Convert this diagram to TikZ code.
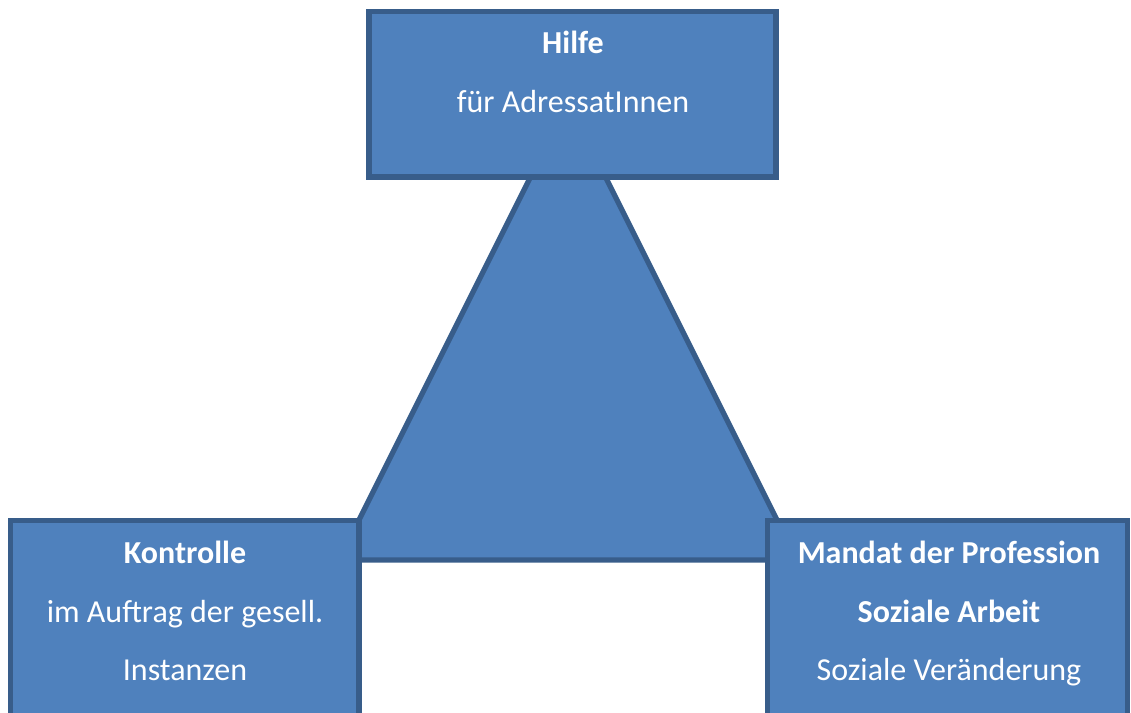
\documentclass[tikz,border=0pt]{standalone}
\usepackage{fontspec}
\setmainfont{Carlito}
\definecolor{boxfill}{HTML}{4F81BD}
\definecolor{boxline}{HTML}{385D8A}
\begin{document}
\begin{tikzpicture}[x=0.75pt,y=-0.75pt,
  shapebox/.style={draw=boxline,fill=boxfill,line width=3.9pt},
  txt/.style={text=white,font=\fontsize{24pt}{28pt}\selectfont,inner sep=0pt,anchor=base},
  btxt/.style={txt,font=\fontsize{24pt}{28pt}\selectfont\bfseries}]
\useasboundingbox (0,0) rectangle (1131,713);
\clip (0,0) rectangle (1131,713);
% triangle
\coordinate (apex) at (568,102);
\coordinate (bl) at (339,560);
\coordinate (br) at (797,560);
\draw[shapebox] (apex) -- (br) -- (bl) -- cycle;
% boxes
\draw[shapebox] (369,11.5) rectangle (776,177) node[pos=.5,inner sep=0pt] (top) {};
\draw[shapebox] (10.5,520.5) rectangle (359,740) node[pos=.5,inner sep=0pt] (left) {};
\draw[shapebox] (767.5,520.5) rectangle (1127.5,740) node[pos=.5,inner sep=0pt] (right) {};
% texts
\node[btxt] (t1) at (573,54) {Hilfe};
\node[txt] (t2) at (573,113) {für AdressatInnen};
\node[btxt] (l1) at (185,563) {Kontrolle};
\node[txt] (l2) at (185,622) {im Auftrag der gesell.};
\node[txt] (l3) at (185,680) {Instanzen};
\node[btxt] (r1) at (949,563) {Mandat der Profession};
\node[btxt] (r2) at (949,622) {Soziale Arbeit};
\node[txt] (r3) at (949,680) {Soziale Veränderung};
\end{tikzpicture}
\end{document}
